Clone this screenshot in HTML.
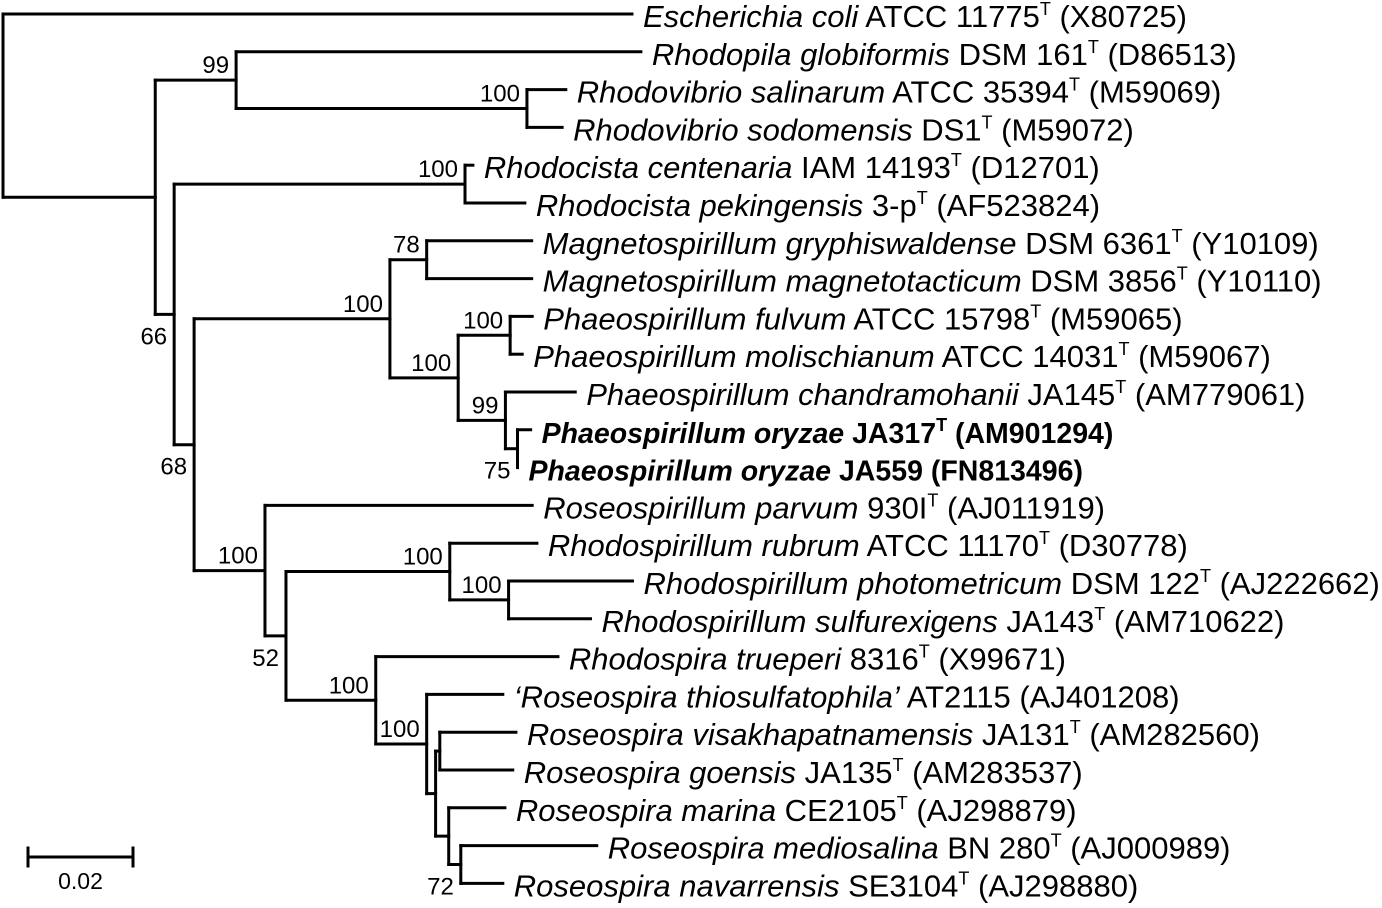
<!DOCTYPE html>
<html><head><meta charset="utf-8"><style>
html,body{margin:0;padding:0;background:#fff;}
svg{display:block;font-family:"Liberation Sans",Arial,sans-serif;}
</style></head><body>
<svg id="tree" width="1382" height="908" viewBox="0 0 1382 908" xmlns="http://www.w3.org/2000/svg"></svg>
<script>
// ---- data ----
const leafItalic = ["Escherichia coli","Rhodopila globiformis","Rhodovibrio salinarum","Rhodovibrio sodomensis","Rhodocista centenaria","Rhodocista pekingensis","Magnetospirillum gryphiswaldense","Magnetospirillum magnetotacticum","Phaeospirillum fulvum","Phaeospirillum molischianum","Phaeospirillum chandramohanii","Phaeospirillum oryzae","Phaeospirillum oryzae","Roseospirillum parvum","Rhodospirillum rubrum","Rhodospirillum photometricum","Rhodospirillum sulfurexigens","Rhodospira trueperi","\u2018Roseospira thiosulfatophila\u2019","Roseospira visakhapatnamensis","Roseospira goensis","Roseospira marina","Roseospira mediosalina","Roseospira navarrensis"];
const leafStrain = ["ATCC 11775","DSM 161","ATCC 35394","DS1","IAM 14193","3-p","DSM 6361","DSM 3856","ATCC 15798","ATCC 14031","JA145","JA317","JA559","930I","ATCC 11170","DSM 122","JA143","8316","AT2115","JA131","JA135","CE2105","BN 280","SE3104"];
const leafTypeStrain = [1,1,1,1,1,1,1,1,1,1,1,1,0,1,1,1,1,1,0,1,1,1,1,1];
const leafAccession = ["X80725","D86513","M59069","M59072","D12701","AF523824","Y10109","Y10110","M59065","M59067","AM779061","AM901294","FN813496","AJ011919","D30778","AJ222662","AM710622","X99671","AJ401208","AM282560","AM283537","AJ298879","AJ000989","AJ298880"];
const leafBold = [0,0,0,0,0,0,0,0,0,0,0,1,1,0,0,0,0,0,0,0,0,0,0,0];
const leafLengths = [0.1198,0.0771,0.0074,0.0067,0.0015,0.0114,0.0200,0.0200,0.0042,0.0023,0.0133,0.0025,0.0000,0.0509,0.0166,0.0236,0.0156,0.0347,0.0145,0.0145,0.0139,0.0107,0.0259,0.0080];
const nodeChildren = [["L0","N1"],["N2","N3"],["L1","N4"],["N5","N6"],["L2","L3"],["L4","L5"],["N7","N12"],["N8","N9"],["L6","L7"],["N10","N11"],["L8","L9"],["L10","N13"],["L13","N14"],["L11","L12"],["N15","N17"],["L14","N16"],["L15","L16"],["L17","N18"],["L18","N19"],["N20","N21"],["L19","L20"],["L21","N22"],["L22","L23"]];
const nodeLengths = [0,0.0290,0.0154,0.0036,0.0554,0.0554,0.0038,0.0373,0.0070,0.0130,0.0099,0.0090,0.0135,0.0023,0.0040,0.0312,0.0112,0.0171,0.0097,0.0017,0.0008,0.0025,0.0023];
const bootstrap = [null,null,99,66,100,100,68,100,78,100,100,99,100,75,52,100,100,100,100,null,null,null,72];
const bootBelow = [0,0,0,1,0,0,1,0,0,0,0,0,0,1,1,0,0,0,0,0,0,0,1];
const scaleValue = 0.02;

// ---- layout functions ----
const svg = document.getElementById('tree');
const NS = "http://www.w3.org/2000/svg";
const PX = 5250, X0 = 3, Y0 = 14, ROW = 37.8;
const xOf = d => X0 + d * PX;
const yOfRow = i => Y0 + i * ROW;

const pos = {};
function layout(id, parentDepth) {
  if (id[0] === 'L') {
    const i = +id.slice(1);
    const d = parentDepth + leafLengths[i];
    pos[id] = {x: xOf(d), y: yOfRow(i), px: xOf(parentDepth)};
    return pos[id];
  }
  const n = +id.slice(1);
  const d = parentDepth + nodeLengths[n];
  const kids = nodeChildren[n].map(c => layout(c, d));
  const y = (kids[0].y + kids[kids.length - 1].y) / 2;
  pos[id] = {x: xOf(d), y: y, px: xOf(parentDepth), y1: kids[0].y, y2: kids[kids.length - 1].y};
  return pos[id];
}
layout("N0", 0);

function line(x1, y1, x2, y2, name) {
  const l = document.createElementNS(NS, 'line');
  l.setAttribute('x1', x1); l.setAttribute('y1', y1);
  l.setAttribute('x2', x2); l.setAttribute('y2', y2);
  l.setAttribute('stroke', '#000'); l.setAttribute('stroke-width', 3);
  l.setAttribute('stroke-linecap', 'square');
  
  
  svg.appendChild(l);
}

nodeChildren.forEach((kids, n) => {
  const p = pos['N' + n];
  line(p.x, p.y1, p.x, p.y2, 'node-vertical-' + n);
  if (n > 0) line(p.px, p.y, p.x, p.y, 'branch-node-' + n);
  if (bootstrap[n] !== null) {
    const t = document.createElementNS(NS, 'text');
    t.setAttribute('x', p.x - 7);
    t.setAttribute('y', bootBelow[n] ? p.y + 30 : p.y - 7);
    t.setAttribute('text-anchor', 'end');
    t.setAttribute('font-size', '24');
    t.textContent = bootstrap[n];
    
    
    svg.appendChild(t);
  }
});

leafItalic.forEach((nm, i) => {
  const p = pos['L' + i];
  if (p.x - p.px > 0.5) line(p.px, p.y, p.x, p.y, 'branch-leaf-' + i);
  const t = document.createElementNS(NS, 'text');
  t.setAttribute('x', p.x + 11);
  t.setAttribute('y', p.y + 13);
  t.setAttribute('font-size', leafBold[i] ? '28.5' : '31');
  if (leafBold[i]) t.setAttribute('font-weight', 'bold');
  
  
  const a = document.createElementNS(NS, 'tspan');
  a.setAttribute('font-style', 'italic');
  a.textContent = nm;
  t.appendChild(a);
  const b = document.createElementNS(NS, 'tspan');
  b.textContent = ' ' + leafStrain[i];
  t.appendChild(b);
  if (leafTypeStrain[i]) {
    const s = document.createElementNS(NS, 'tspan');
    s.setAttribute('font-size', '18');
    s.setAttribute('dy', '-12');
    s.textContent = 'T';
    t.appendChild(s);
  }
  const c = document.createElementNS(NS, 'tspan');
  if (leafTypeStrain[i]) c.setAttribute('dy', '12');
  c.textContent = ' (' + leafAccession[i] + ')';
  t.appendChild(c);
  svg.appendChild(t);
});

// scale bar
const sx1 = 28, sx2 = sx1 + scaleValue * PX, sy = 857;
line(sx1, sy, sx2, sy, 'scale-bar');
line(sx1, sy - 9, sx1, sy + 9, 'scale-bar-tick-left');
line(sx2, sy - 9, sx2, sy + 9, 'scale-bar-tick-right');
const st = document.createElementNS(NS, 'text');
st.setAttribute('x', (sx1 + sx2) / 2);
st.setAttribute('y', 889);
st.setAttribute('text-anchor', 'middle');
st.setAttribute('font-size', '23');
st.textContent = scaleValue.toString();


svg.appendChild(st);
</script>
</body></html>
